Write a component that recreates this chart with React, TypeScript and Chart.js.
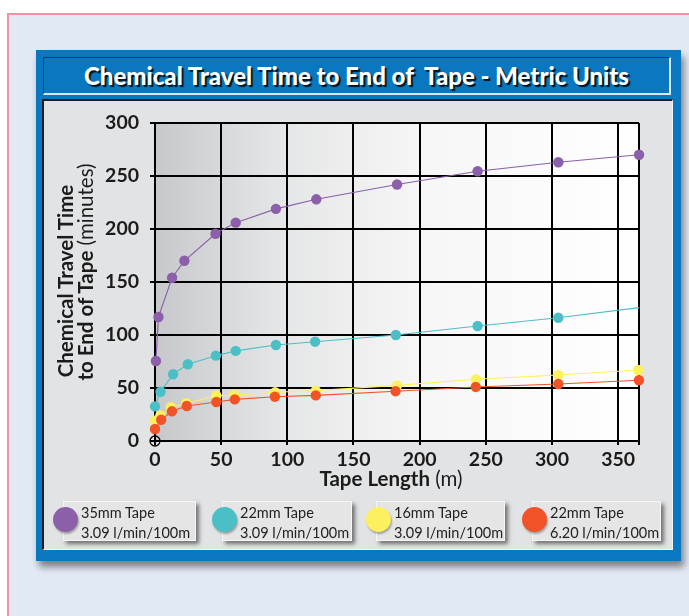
import React, { useEffect, useRef } from 'react';
import { Chart, registerables } from 'chart.js';

Chart.register(...registerables);

// ---------- data ----------
const X_MAX = 365.76;
const xTickValues = [0, 50, 100, 150, 200, 250, 300, 350];
const yTickValues = [0, 50, 100, 150, 200, 250, 300];

const seriesNames = ['35mm Tape', '22mm Tape', '16mm Tape', '22mm Tape'];
const seriesRates = ['3.09 l/min/100m', '3.09 l/min/100m', '3.09 l/min/100m', '6.20 l/min/100m'];
const seriesColors = ['#8b5fa9', '#4ac0c6', '#fdf05e', '#f05328'];

const purpleX = [0.7, 2.6, 12.9, 22.2, 45.7, 61, 91.4, 121.9, 182.9, 243.8, 304.8, 365.8];
const purpleY = [75.5, 117, 154, 170, 195.5, 206, 219, 228, 242, 254.5, 263, 270];

const tealX = [0, 4.2, 13.7, 24.8, 46, 61, 91.4, 121, 182, 243.8, 304.8, 365.8];
const tealY = [32.7, 46.5, 63, 72.4, 80.5, 85, 90.6, 93.7, 100, 108.5, 116.3, 125.8];

const yellowX = [0, 4, 12, 23.6, 46.4, 60, 90.8, 121.5, 183, 242.6, 304.8, 365.2];
const yellowY = [19.2, 24, 31.8, 35.6, 42.7, 43.4, 46, 47.5, 52.5, 58.2, 62.3, 67];

const redX = [0, 4.7, 12.8, 24, 46.4, 60.3, 90.6, 121.5, 181.8, 242.4, 304.8, 365.7];
const redY = [11.3, 20, 28, 33, 36.8, 39.3, 41.8, 43, 47, 51, 53.8, 57.3];

const seriesX = [purpleX, tealX, yellowX, redX];
const seriesY = [purpleY, tealY, yellowY, redY];
// teal's last point is drawn without a marker in the reference
const hiddenLastMarker = [false, true, false, false];

const TITLE = 'Chemical Travel Time to End of\u00a0 Tape - Metric Units';

const FONT = 'Lato, "Open Sans", sans-serif';

const bgPlugin = {
  id: 'plotBg',
  beforeDraw(chart: any) {
    const { ctx, chartArea } = chart;
    if (!chartArea) return;
    const { left, top, right, bottom } = chartArea;
    const g = ctx.createLinearGradient(left, 0, right, 0);
    g.addColorStop(0, '#c7c8cb');
    g.addColorStop(0.25, '#e4e5e6');
    g.addColorStop(0.55, '#f6f6f6');
    g.addColorStop(1, '#ffffff');
    ctx.save();
    ctx.fillStyle = g;
    ctx.fillRect(left, top, right - left, bottom - top);
    ctx.restore();
  },
};

function ChartCanvas() {
  const ref = useRef<HTMLCanvasElement | null>(null);
  useEffect(() => {
    if (!ref.current) return;
    const datasets: any[] = seriesNames.map((name, i) => ({
      label: name,
      data: seriesX[i].map((x, j) => ({ x, y: seriesY[i][j] })),
      showLine: true,
      borderColor: seriesColors[i],
      backgroundColor: seriesColors[i],
      borderWidth: 1.1,
      pointRadius: seriesX[i].map((_, j) =>
        hiddenLastMarker[i] && j === seriesX[i].length - 1 ? 0 : 5.2
      ),
      pointBorderWidth: 0,
      pointBackgroundColor: seriesColors[i],
      clip: false,
      order: 4 - i,
    }));
    datasets.push({
      label: 'origin',
      data: [{ x: 0, y: 0 }],
      showLine: false,
      pointRadius: 5,
      pointBorderWidth: 1.3,
      pointBorderColor: '#000',
      pointBackgroundColor: 'rgba(0,0,0,0)',
      clip: false,
      order: 0,
    });
    const tickFont = { family: FONT, weight: 'bold' as const, size: 19.5 };
    const chart = new Chart(ref.current, {
      type: 'scatter',
      data: { datasets },
      plugins: [bgPlugin],
      options: {
        responsive: false,
        animation: false,
        devicePixelRatio: 1,
        layout: { padding: { left: 0, top: 24, right: 34, bottom: 0 } },
        plugins: { legend: { display: false }, tooltip: { enabled: false } },
        scales: {
          x: {
            type: 'linear',
            min: 0,
            max: X_MAX,
            afterBuildTicks: (s: any) => {
              s.ticks = [...xTickValues, X_MAX].map((value) => ({ value }));
            },
            afterFit: (s: any) => {
              s.height = 109;
            },
            grid: { color: '#000', lineWidth: 2, tickLength: 4, drawTicks: true },
            border: { color: '#000', width: 2 },
            ticks: {
              font: tickFont,
              color: '#1b1b1b',
              padding: 3,
              maxRotation: 0,
              autoSkip: false,
              callback: (v: any) => (v === X_MAX ? '' : String(v)),
            },
          },
          y: {
            type: 'linear',
            min: 0,
            max: 300,
            afterBuildTicks: (s: any) => {
              s.ticks = yTickValues.map((value) => ({ value }));
            },
            afterFit: (s: any) => {
              s.width = 113;
            },
            grid: { color: '#000', lineWidth: 2, tickLength: 5, drawTicks: true },
            border: { color: '#000', width: 2 },
            ticks: {
              font: tickFont,
              color: '#1b1b1b',
              padding: 11,
              autoSkip: false,
            },
          },
        },
      } as any,
    });
    return () => chart.destroy();
  }, []);
  return (
    <canvas
      ref={ref}
      width={631}
      height={451}
      style={{ position: 'absolute', left: 42, top: 99, width: 631, height: 451 }}
    />
  );
}

const legendLeft = [63, 222, 376, 532];
const legendWidth = [133, 130, 129, 129];

export default function App() {
  return (
    <div
      style={{
        position: 'fixed',
        left: 0,
        top: 0,
        width: 689,
        height: 616,
        overflow: 'hidden',
        background: '#ffffff',
        fontFamily: FONT,
      }}
    >
      {/* pink outer frame */}
      <div
        style={{
          position: 'absolute',
          left: 7,
          top: 13,
          width: 720,
          height: 640,
          border: '2px solid #f0939f',
          background: '#e1e9f5',
        }}
      />
      {/* blue panel */}
      <div
        style={{
          position: 'absolute',
          left: 36,
          top: 50,
          width: 645,
          height: 511,
          background: '#0a78c1',
          boxShadow: '3px 6px 7px rgba(0,0,0,0.45)',
        }}
      />
      {/* title bar */}
      <div
        style={{
          position: 'absolute',
          left: 43,
          top: 57,
          width: 628,
          height: 38,
          boxSizing: 'border-box',
          borderTop: '1px solid #123a5e',
          borderLeft: '1px solid #123a5e',
          borderRight: '2px solid #d6e8f6',
          borderBottom: '2px solid #d6e8f6',
          display: 'flex',
          alignItems: 'center',
          justifyContent: 'center',
          color: '#ffffff',
          fontWeight: 900,
          fontSize: 24,
          whiteSpace: 'pre',
          textShadow: '2px 2px 1px rgba(0,0,0,0.85)',
        }}
      >
        {TITLE}
      </div>
      {/* gray chart panel */}
      <div
        style={{
          position: 'absolute',
          left: 42,
          top: 99,
          width: 631,
          height: 451,
          boxSizing: 'border-box',
          background: '#e2e3e5',
          borderTop: '2px solid #1e1e1e',
          borderLeft: '2px solid #1e1e1e',
          borderRight: '1px solid #f4f4f4',
          borderBottom: '1px solid #f4f4f4',
        }}
      />
      <ChartCanvas />
      {/* y axis title */}
      <div
        style={{
          position: 'absolute',
          left: 65 - 130,
          top: 281 - 11,
          width: 260,
          height: 22,
          lineHeight: '22px',
          textAlign: 'center',
          transform: 'rotate(-90deg)',
          fontSize: 20.5,
          fontWeight: 700,
          color: '#1b1b1b',
          whiteSpace: 'nowrap',
        }}
      >
        Chemical Travel Time
      </div>
      <div
        style={{
          position: 'absolute',
          left: 85 - 140,
          top: 272 - 11,
          width: 280,
          height: 22,
          lineHeight: '22px',
          textAlign: 'center',
          transform: 'rotate(-90deg)',
          fontSize: 20.5,
          color: '#1b1b1b',
          whiteSpace: 'nowrap',
        }}
      >
        <span style={{ fontWeight: 700 }}>to End of Tape</span> (minutes)
      </div>
      {/* x axis title */}
      <div
        style={{
          position: 'absolute',
          left: 391 - 120,
          top: 467,
          width: 240,
          height: 22,
          lineHeight: '22px',
          textAlign: 'center',
          fontSize: 20.5,
          color: '#1b1b1b',
          whiteSpace: 'nowrap',
        }}
      >
        <span style={{ fontWeight: 700 }}>Tape Length</span> (m)
      </div>
      {/* legend */}
      {seriesNames.map((name, i) => (
        <React.Fragment key={i}>
          <div
            style={{
              position: 'absolute',
              left: legendLeft[i],
              top: 501,
              width: legendWidth[i],
              height: 40,
              boxSizing: 'border-box',
              background: '#e5e5e5',
              border: '1px solid #f6f6f6',
              boxShadow: '3px 3px 4px rgba(0,0,0,0.5)',
              paddingLeft: 17,
              paddingTop: 1,
              fontSize: 14.5,
              lineHeight: '19.5px',
              color: '#222',
              whiteSpace: 'nowrap',
            }}
          >
            <div>{name}</div>
            <div>{seriesRates[i]}</div>
          </div>
          <div
            style={{
              position: 'absolute',
              left: legendLeft[i] + 2 - 12.5,
              top: 519 - 12.5,
              width: 25,
              height: 25,
              borderRadius: '50%',
              background: seriesColors[i],
              boxShadow: '1px 2px 2px rgba(0,0,0,0.3)',
            }}
          />
        </React.Fragment>
      ))}
    </div>
  );
}
